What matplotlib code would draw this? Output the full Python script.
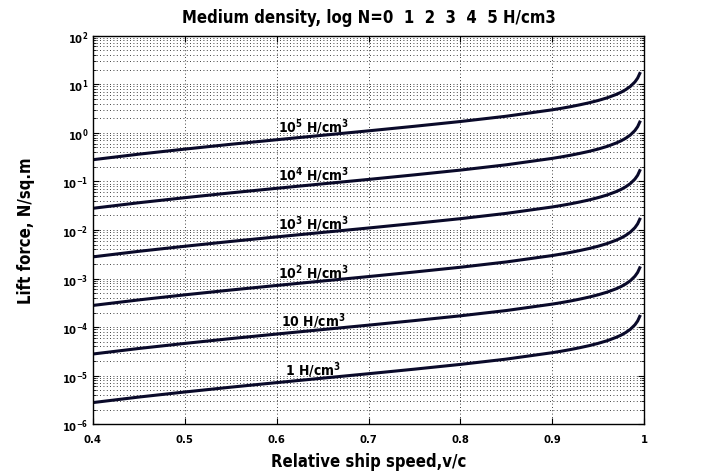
import numpy as np
import matplotlib
matplotlib.use("Agg")
import matplotlib.pyplot as plt
from matplotlib.ticker import LogLocator, FuncFormatter, MultipleLocator

plt.rcParams['font.family'] = ['DejaVu Sans']
plt.rcParams['font.stretch'] = 'condensed'
plt.rcParams['font.weight'] = 'bold'
plt.rcParams['axes.titleweight'] = 'bold'
plt.rcParams['axes.labelweight'] = 'bold'
plt.rcParams['mathtext.default'] = 'bf'

# lift force for 1 H/cm3 (log10 of N/sq.m)
speed = [0.40, 0.45, 0.50, 0.55, 0.60, 0.65, 0.70, 0.75, 0.80, 0.85,
         0.90, 0.91, 0.92, 0.93, 0.94, 0.95, 0.96, 0.97, 0.975,
         0.98, 0.985, 0.99, 0.993, 0.996]
log_lift_1 = [-5.553, -5.439, -5.335, -5.236, -5.142, -5.050, -4.959, -4.865, -4.767, -4.658,
              -4.526, -4.495, -4.461, -4.423, -4.382, -4.334, -4.278, -4.207, -4.164,
              -4.111, -4.045, -3.953, -3.873, -3.75]

# densities H/cm3 (log N = 0..5)
density = [1, 10, 1e2, 1e3, 1e4, 1e5]
labels = ['1 H/cm$^3$', '10 H/cm$^3$', '10$^2$ H/cm$^3$',
          '10$^3$ H/cm$^3$', '10$^4$ H/cm$^3$', '10$^5$ H/cm$^3$']

v = np.array(speed)
base = 10 ** np.array(log_lift_1)

fig = plt.figure(figsize=(7.12, 4.77), dpi=100)
ax = fig.add_axes([0.1306, 0.1084, 0.774, 0.8147])

for n, lab in zip(density, labels):
    ax.plot(v, base * n, color='#0a0a2a', lw=2.2, solid_capstyle='butt')
    ax.text(0.64, n * 10 ** -4.86, lab, ha='center', va='center', fontsize=10)

ax.set_yscale('log')
ax.set_xlim(0.4, 1.0)
ax.set_ylim(1e-6, 1e2)
ax.xaxis.set_major_locator(MultipleLocator(0.1))
ax.xaxis.set_major_formatter(FuncFormatter(lambda x, p: '1' if abs(x - 1) < 1e-9 else '%.1f' % x))
ax.yaxis.set_major_locator(LogLocator(base=10, numticks=20))
ax.yaxis.set_minor_locator(LogLocator(base=10, subs=np.arange(2, 10), numticks=20))
ax.yaxis.set_major_formatter(FuncFormatter(lambda y, p: '$10^{%d}$' % round(np.log10(y))))

ax.grid(True, which='major', color='black', ls=(0, (1, 3)), lw=0.6)
ax.grid(True, which='minor', axis='y', color='black', ls=(0, (1, 3)), lw=0.6)
ax.tick_params(which='both', direction='in', top=True, right=True, labelsize=8)
ax.tick_params(axis='x', pad=7)
ax.tick_params(which='major', length=4)
ax.tick_params(which='minor', length=2)
for s in ax.spines.values():
    s.set_linewidth(1.0)

ax.set_title('Medium density, log N=0  1  2  3  4  5 H/cm3', fontsize=12, pad=10)
ax.set_xlabel('Relative ship speed,v/c', fontsize=12, labelpad=6)
ax.set_ylabel('Lift force, N/sq.m', fontsize=12, labelpad=19)

fig.savefig('out.png', dpi=100)
